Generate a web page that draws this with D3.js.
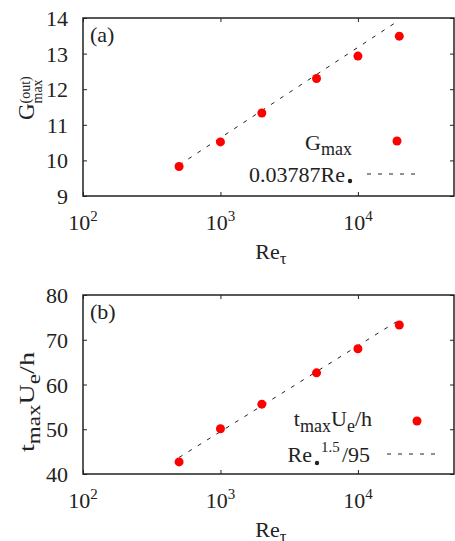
<!DOCTYPE html>
<html>
<head>
<meta charset="utf-8">
<script src="https://cdn.jsdelivr.net/npm/d3@7"></script>
<style>
  body { margin: 0; background: #fff; }
  text { font-family: "Liberation Serif", "DejaVu Serif", serif; fill: #222; }
</style>
</head>
<body>
<svg id="chart" width="455" height="541"></svg>
<script>
// data
const reTau = [500, 1000, 2000, 5000, 10000, 20000];
const gMax = [9.83, 10.52, 11.33, 12.30, 12.93, 13.49];
const tMax = [42.7, 50.1, 55.6, 62.6, 68.0, 73.3];

// fitted lines (end points)
const gFitRe = [500, 18600];
const gFit = [9.87, 13.86];
const tFitRe = [500, 19000];
const tFit = [43.7, 74.0];

const xTicks = [100, 1000, 10000];
const xTickExp = ['2', '3', '4'];
const gTicks = [9, 10, 11, 12, 13, 14];
const tTicks = [40, 50, 60, 70, 80];

const svg = d3.select('#chart');
const left = 83, right = 454;
const x = d3.scaleLog().domain([100, 50000]).range([left, right]);
const RED = '#ff0000';
const INK = '#222';

function panel(cfg) {
  const y = d3.scaleLinear().domain(cfg.yDomain).range([cfg.bottom, cfg.top]);
  const g = svg.append('g');

  // inward ticks on all four sides
  const tick = 4;
  g.append('g').attr('transform', `translate(0,${cfg.bottom})`)
    .call(d3.axisBottom(x).tickValues(xTicks).tickSizeInner(-tick).tickSizeOuter(0).tickFormat(''));
  g.append('g').attr('transform', `translate(0,${cfg.top})`)
    .call(d3.axisTop(x).tickValues(xTicks).tickSizeInner(-tick).tickSizeOuter(0).tickFormat(''));
  g.append('g').attr('transform', `translate(${left},0)`)
    .call(d3.axisLeft(y).tickValues(cfg.yTicks).tickSizeInner(-tick).tickSizeOuter(0).tickFormat(''));
  g.append('g').attr('transform', `translate(${right},0)`)
    .call(d3.axisRight(y).tickValues(cfg.yTicks).tickSizeInner(-tick).tickSizeOuter(0).tickFormat(''));
  g.selectAll('.domain').remove();
  g.selectAll('.tick line').attr('stroke', INK).attr('stroke-width', 1);

  g.append('rect')
    .attr('x', left).attr('y', cfg.top)
    .attr('width', right - left).attr('height', cfg.bottom - cfg.top)
    .attr('fill', 'none').attr('stroke', INK).attr('stroke-width', 1.5);

  // y tick labels
  g.selectAll('.ylab').data(cfg.yTicks).enter().append('text')
    .attr('x', 68).attr('y', d => y(d) + 8)
    .attr('text-anchor', 'end').attr('font-size', 22)
    .text(d => d);

  // x tick labels 10^n
  xTicks.forEach((v, i) => {
    const t = g.append('text')
      .attr('x', x(v)).attr('y', cfg.bottom + 34)
      .attr('text-anchor', 'middle').attr('font-size', 22);
    t.append('tspan').text('10');
    t.append('tspan').attr('font-size', 15).attr('dy', -9).text(xTickExp[i]);
  });

  // x title
  const xt = g.append('text')
    .attr('x', 271).attr('y', cfg.bottom + 63)
    .attr('text-anchor', 'middle').attr('font-size', 22);
  xt.append('tspan').text('Re');
  xt.append('tspan').attr('font-size', 17).attr('dy', 5).text('τ');

  // panel tag
  g.append('text').attr('x', 90).attr('y', cfg.top + 24)
    .attr('font-size', 22).text(cfg.tag);

  // fit line
  const line = d3.line().x(d => x(d[0])).y(d => y(d[1]));
  g.append('path')
    .datum(d3.zip(cfg.fitRe, cfg.fit))
    .attr('d', line)
    .attr('fill', 'none').attr('stroke', INK).attr('stroke-width', 1)
    .attr('stroke-dasharray', '4,7');

  // points
  g.selectAll('.pt').data(d3.zip(reTau, cfg.values)).enter().append('circle')
    .attr('cx', d => x(d[0])).attr('cy', d => y(d[1]))
    .attr('r', 4.5).attr('fill', RED);

  cfg.decorate(g);
}

panel({
  top: 18, bottom: 196, yDomain: [9, 14], yTicks: gTicks,
  values: gMax, fitRe: gFitRe, fit: gFit, tag: '(a)',
  decorate(g) {
    // y title G_max^(out)
    const yl = g.append('g').attr('transform', 'translate(34,120) rotate(-90)');
    yl.append('text').attr('font-size', 23).text('G');
    yl.append('text').attr('x', 16.5).attr('y', 8).attr('font-size', 14).text('max');
    yl.append('text').attr('x', 16.5).attr('y', -4).attr('font-size', 14).text('(out)');

    // legend
    const l1 = g.append('text').attr('x', 352).attr('y', 150)
      .attr('text-anchor', 'end').attr('font-size', 22);
    l1.append('tspan').text('G');
    l1.append('tspan').attr('font-size', 18).attr('dy', 5).text('max');
    g.append('circle').attr('cx', 397).attr('cy', 141).attr('r', 4.5).attr('fill', RED);

    g.append('text').attr('x', 345).attr('y', 182)
      .attr('text-anchor', 'end').attr('font-size', 22).text('0.03787Re');
    g.append('circle').attr('cx', 350).attr('cy', 181).attr('r', 2.2).attr('fill', INK);
    g.append('line').attr('x1', 367).attr('x2', 421).attr('y1', 174).attr('y2', 174)
      .attr('stroke', INK).attr('stroke-width', 1).attr('stroke-dasharray', '4,7');
  }
});

panel({
  top: 295, bottom: 474, yDomain: [40, 80], yTicks: tTicks,
  values: tMax, fitRe: tFitRe, fit: tFit, tag: '(b)',
  decorate(g) {
    // y title t_max U_e/h
    const yt = g.append('g').attr('transform', 'translate(34,452) rotate(-90)')
      .append('text').attr('font-size', 22)
      .attr('textLength', 100).attr('lengthAdjust', 'spacingAndGlyphs');
    yt.append('tspan').text('t');
    yt.append('tspan').attr('font-size', 18).attr('dy', 6).text('max');
    yt.append('tspan').attr('dy', -6).text('U');
    yt.append('tspan').attr('font-size', 18).attr('dy', 6).text('e');
    yt.append('tspan').attr('dy', -6).text('/h');

    // legend
    const l1 = g.append('text').attr('x', 372).attr('y', 426)
      .attr('text-anchor', 'end').attr('font-size', 22);
    l1.append('tspan').text('t');
    l1.append('tspan').attr('font-size', 18).attr('dy', 6).text('max');
    l1.append('tspan').attr('dy', -6).text('U');
    l1.append('tspan').attr('font-size', 18).attr('dy', 6).text('e');
    l1.append('tspan').attr('dy', -6).text('/h');
    g.append('circle').attr('cx', 417).attr('cy', 421).attr('r', 4.5).attr('fill', RED);

    g.append('text').attr('x', 312).attr('y', 462)
      .attr('text-anchor', 'end').attr('font-size', 22).text('Re');
    g.append('circle').attr('cx', 317).attr('cy', 463).attr('r', 2.2).attr('fill', INK);
    g.append('text').attr('x', 321).attr('y', 452).attr('font-size', 15).text('1.5');
    g.append('text').attr('x', 342).attr('y', 462).attr('font-size', 22).text('/95');
    g.append('line').attr('x1', 387).attr('x2', 441).attr('y1', 454).attr('y2', 454)
      .attr('stroke', INK).attr('stroke-width', 1).attr('stroke-dasharray', '4,7');
  }
});
</script>
</body>
</html>
